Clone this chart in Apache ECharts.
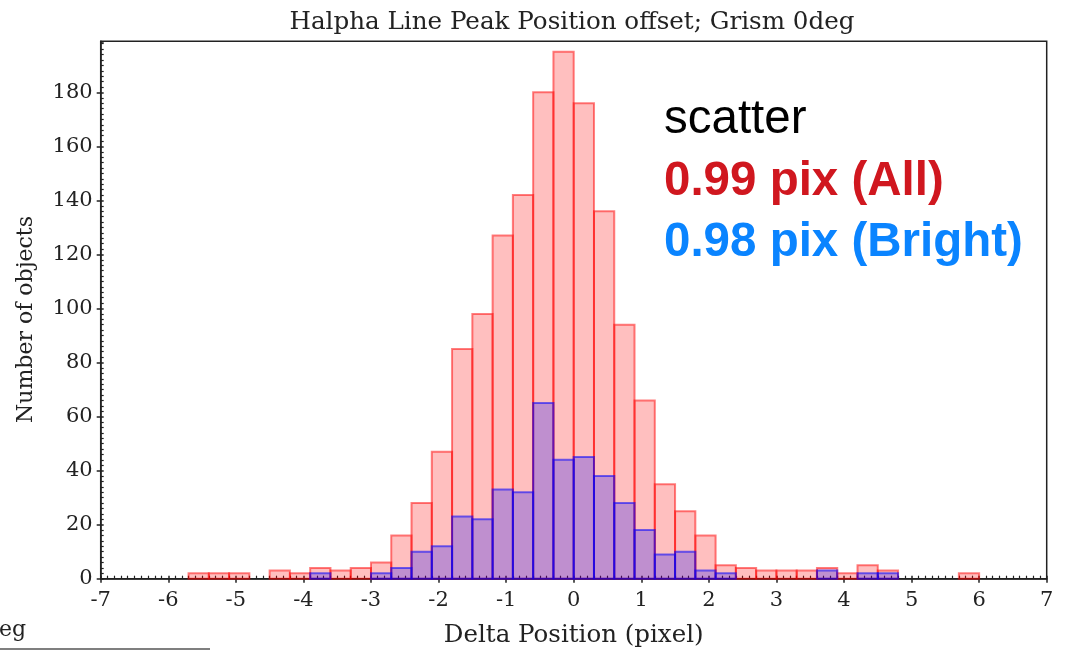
<!DOCTYPE html>
<html>
<head>
<meta charset="utf-8">
<script src="https://cdn.jsdelivr.net/npm/echarts@6/dist/echarts.min.js"></script>
<style>
  html, body { margin: 0; padding: 0; background: #fff; }
  #main { width: 1066px; height: 650px; }
</style>
</head>
<body>
<div id="main"></div>
<script>
// bin edges (pixel), width 0.3
var binEdges = [-5.7, -5.4, -5.1, -4.8, -4.5, -4.2, -3.9, -3.6, -3.3, -3.0,
  -2.7, -2.4, -2.1, -1.8, -1.5, -1.2, -0.9, -0.6, -0.3, 0.0,
  0.3, 0.6, 0.9, 1.2, 1.5, 1.8, 2.1, 2.4, 2.7, 3.0,
  3.3, 3.6, 3.9, 4.2, 4.5, 4.8, 5.1, 5.4, 5.7, 6.0];

// counts per bin, all objects
var allCounts = [2, 2, 2, 0, 3, 2, 4, 3, 4, 6,
  16, 28, 47, 85, 98, 127, 142, 180, 195, 176,
  136, 94, 66, 35, 25, 16, 5, 4, 3, 3,
  3, 4, 2, 5, 3, 0, 0, 0, 2];

// counts per bin, bright objects
var brightCounts = [0, 0, 0, 0, 0, 0, 2, 0, 0, 2,
  4, 10, 12, 23, 22, 33, 32, 65, 44, 45,
  38, 28, 18, 9, 10, 3, 2, 0, 0, 0,
  0, 3, 0, 2, 2, 0, 0, 0, 0];

var xTicks = [-7, -6, -5, -4, -3, -2, -1, 0, 1, 2, 3, 4, 5, 6, 7];
var yTicks = [0, 20, 40, 60, 80, 100, 120, 140, 160, 180];

var titleText = 'Halpha Line Peak Position offset; Grism 0deg';
var xName = 'Delta Position (pixel)';
var yName = 'Number of objects';
var notes = ['scatter', '0.99 pix (All)', '0.98 pix (Bright)'];

function toBars(counts) {
  var out = [];
  for (var i = 0; i < counts.length; i++) {
    if (counts[i] > 0) out.push([binEdges[i], binEdges[i + 1], counts[i]]);
  }
  return out;
}

function histItem(fill, stroke) {
  return function (params, api) {
    var p0 = api.coord([api.value(0), 0]);
    var p1 = api.coord([api.value(1), api.value(2)]);
    return {
      type: 'rect',
      shape: { x: p0[0], y: p1[1], width: p1[0] - p0[0], height: p0[1] - p1[1] },
      style: { fill: fill, stroke: stroke, lineWidth: 2 }
    };
  };
}

var serif = 'DejaVu Serif';
var sans = '"Liberation Sans", Arial, sans-serif';
var chart = echarts.init(document.getElementById('main'));

chart.setOption({
  animation: false,
  title: {
    text: titleText,
    left: 567,
    textAlign: 'center',
    top: 5,
    textStyle: { fontFamily: serif, fontSize: 24.6, fontWeight: 'normal', color: '#222' }
  },
  grid: {
    left: 100.7, right: 19.3, top: 41.3, bottom: 71.3,
    outerBoundsMode: 'none',
    show: true, borderColor: '#222', borderWidth: 1.5, backgroundColor: 'transparent'
  },
  xAxis: [{
    type: 'value', min: xTicks[0], max: xTicks[xTicks.length - 1], interval: 1,
    name: xName, nameLocation: 'middle', nameGap: 44,
    nameTextStyle: { fontFamily: serif, fontSize: 24.5, color: '#222' },
    axisLine: { show: true, onZero: false, lineStyle: { color: '#222', width: 1.5 } },
    axisTick: { show: true, inside: false, length: 4, lineStyle: { color: '#222', width: 1.5 } },
    axisLabel: { fontFamily: serif, fontSize: 21, color: '#222', margin: 11 },
    splitLine: { show: false }
  }, {
    type: 'value', min: xTicks[0], max: xTicks[xTicks.length - 1], interval: 1,
    position: 'bottom',
    axisLine: { show: false, onZero: false },
    axisTick: { show: true, inside: true, length: 3, lineStyle: { color: '#222', width: 1.5 } },
    minorTick: { show: true, splitNumber: 10, length: 3, lineStyle: { color: '#222', width: 1.2 } },
    axisLabel: { show: false },
    splitLine: { show: false }
  }],
  yAxis: [{
    type: 'value', min: 0, max: 198.9, interval: 20,
    name: yName, nameLocation: 'middle', nameGap: 63,
    nameTextStyle: { fontFamily: serif, fontSize: 22, color: '#222', padding: [0, 19, 0, 0] },
    axisLine: { show: true, onZero: false, lineStyle: { color: '#222', width: 1.5 } },
    axisTick: { show: true, inside: false, length: 4, lineStyle: { color: '#222', width: 1.5 } },
    axisLabel: { fontFamily: serif, fontSize: 21, color: '#222', margin: 8, showMaxLabel: false },
    splitLine: { show: false }
  }, {
    type: 'value', min: 0, max: 198.9, interval: 20,
    position: 'left',
    axisLine: { show: false, onZero: false },
    axisTick: { show: true, inside: true, length: 3, lineStyle: { color: '#222', width: 1.5 } },
    minorTick: { show: true, splitNumber: 10, length: 3, lineStyle: { color: '#222', width: 1.2 } },
    axisLabel: { show: false },
    splitLine: { show: false }
  }],
  series: [{
    name: 'All',
    type: 'custom',
    xAxisIndex: 0, yAxisIndex: 0,
    renderItem: histItem('rgba(255,0,0,0.25)', 'rgba(255,0,0,0.5)'),
    encode: { x: [0, 1], y: 2 },
    data: toBars(allCounts)
  }, {
    name: 'Bright',
    type: 'custom',
    xAxisIndex: 0, yAxisIndex: 0,
    renderItem: histItem('rgba(0,0,255,0.25)', 'rgba(0,0,255,0.55)'),
    encode: { x: [0, 1], y: 2 },
    data: toBars(brightCounts)
  }],
  graphic: [
    { type: 'text', x: 664, y: 120, style: { text: notes[0], fill: '#000', font: '47.5px ' + sans, verticalAlign: 'middle' } },
    { type: 'text', x: 664, y: 182, style: { text: notes[1], fill: '#d0171f', font: 'bold 47.5px ' + sans, verticalAlign: 'middle' } },
    { type: 'text', x: 664, y: 243, style: { text: notes[2], fill: '#0a84ff', font: 'bold 47.5px ' + sans, verticalAlign: 'middle' } },
    { type: 'text', x: -1, y: 630, style: { text: 'eg', fill: '#222', font: '22px "DejaVu Serif"', verticalAlign: 'middle' } },
    { type: 'line', shape: { x1: 0, y1: 649, x2: 210, y2: 649 }, style: { stroke: '#555', lineWidth: 1.5 } }
  ]
});
</script>
</body>
</html>
